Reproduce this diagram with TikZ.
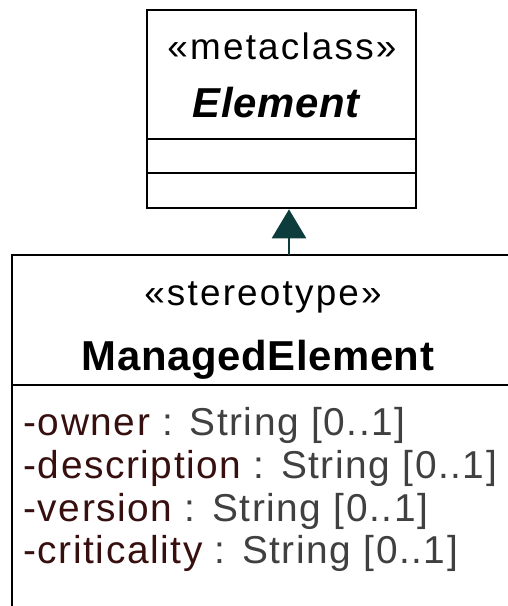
\documentclass[tikz,border=0pt]{standalone}
\usepackage{fontspec}
\setmainfont{Liberation Sans}
\newfontfamily\umlfont[LetterSpace=6]{Liberation Sans}
\newfontfamily\umlafont[LetterSpace=4]{Liberation Sans}
\newfontfamily\umlbfont[LetterSpace=1.5]{Liberation Sans}
\usetikzlibrary{arrows.meta,positioning}
\definecolor{attrname}{RGB}{55,15,15}
\definecolor{attrtype}{RGB}{64,64,64}
\definecolor{generalisation}{RGB}{12,60,60}

\begin{document}
\begin{tikzpicture}[x=1bp,y=-1bp,
    classe/.style={draw=black,line width=2.6bp,fill=white,inner sep=0pt},
    titre/.style={anchor=base,font=\umlfont\fontsize{37}{45}\selectfont},
    nom/.style={anchor=base,font=\umlbfont\bfseries\fontsize{42}{50}\selectfont},
    attribut/.style={anchor=base west,font=\umlafont\fontsize{39}{47}\selectfont}]
    \useasboundingbox (0,0) rectangle (508,606);
    \clip (0,0) rectangle (508,606);

    % Métaclasse Element
    \node[classe,minimum width=269bp,minimum height=198bp] (element) at (281.5,109) {};
    \draw[line width=2.6bp] (147,139) -- (416,139);
    \draw[line width=2.6bp] (147,173) -- (416,173);
    \node[titre] (metaclasse) at (282,60) {«metaclass»};
    \node[nom,font=\umlbfont\bfseries\itshape\fontsize{42}{50}\selectfont] (nomelement) at (276,118) {Element};

    % Stéréotype ManagedElement
    \node[classe,minimum width=500bp,minimum height=356bp] (managed) at (262,433) {};
    \draw[line width=2.6bp] (12,385) -- (512,385);
    \node[titre] (stereotype) at (263,305) {«stereotype»};
    \node[nom] (nommanaged) at (258,370) {ManagedElement};

    % Attributs
    \node[attribut] (owner) at (20,435) {\textcolor{attrname}{-owner} \textcolor{attrtype}{: String [0..1]}};
    \node[attribut] (description) at (20,478) {\textcolor{attrname}{-description} \textcolor{attrtype}{: String [0..1]}};
    \node[attribut] (version) at (20,521) {\textcolor{attrname}{-version} \textcolor{attrtype}{: String [0..1]}};
    \node[attribut] (criticality) at (20,563) {\textcolor{attrname}{-criticality} \textcolor{attrtype}{: String [0..1]}};

    % Généralisation
    \coordinate (pied) at (289,255);
    \draw[-{Triangle[length=29bp,width=34bp]},line width=2.6bp,draw=generalisation,fill=generalisation]
        (pied) -- (pied |- element.south);

\end{tikzpicture}
\end{document}
